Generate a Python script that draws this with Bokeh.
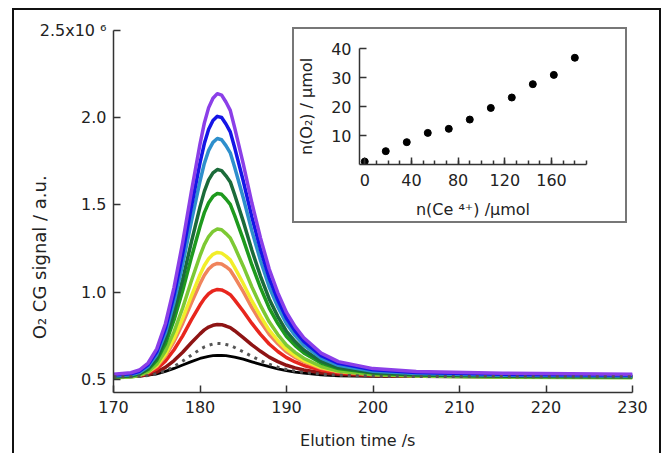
from bokeh.plotting import figure
from bokeh.models import Range1d, FixedTicker, Div
from bokeh.embed import file_html
from bokeh.resources import INLINE

FONT = "DejaVu Sans"
NB = "\u00a0"

# ---- main chart data (signal in units of 10^6 a.u.) ----
time_s = [170, 172, 173, 174, 175, 176, 177, 178, 179, 180, 180.5, 181, 181.5, 182, 182.5, 183, 183.5, 184,
          185, 186, 187, 188, 189, 190, 191, 192, 194, 196, 200, 205, 215, 230]

sig_black = [0.515, 0.516, 0.519, 0.524, 0.532, 0.546, 0.563, 0.583, 0.602, 0.620, 0.626, 0.632, 0.636, 0.638, 0.637, 0.636, 0.632, 0.628,
             0.616, 0.601, 0.586, 0.573, 0.561, 0.551, 0.542, 0.536, 0.526, 0.521, 0.517, 0.516, 0.515, 0.515]
sig_darkred = [0.515, 0.517, 0.520, 0.527, 0.542, 0.569, 0.608, 0.656, 0.710, 0.761, 0.784, 0.800, 0.810, 0.815, 0.814, 0.806, 0.797, 0.779,
               0.740, 0.698, 0.661, 0.628, 0.602, 0.581, 0.566, 0.554, 0.538, 0.529, 0.521, 0.518, 0.516, 0.515]
sig_red = [0.515, 0.518, 0.523, 0.535, 0.560, 0.605, 0.670, 0.750, 0.841, 0.926, 0.963, 0.991, 1.008, 1.016, 1.013, 1.001, 0.986, 0.956,
           0.891, 0.821, 0.758, 0.703, 0.660, 0.625, 0.600, 0.580, 0.553, 0.538, 0.525, 0.520, 0.517, 0.515]
sig_salmon = [0.515, 0.518, 0.525, 0.541, 0.574, 0.632, 0.717, 0.821, 0.938, 1.048, 1.097, 1.133, 1.155, 1.165, 1.162, 1.146, 1.126, 1.087,
              1.003, 0.912, 0.830, 0.759, 0.704, 0.658, 0.626, 0.600, 0.564, 0.544, 0.528, 0.522, 0.517, 0.515]
sig_yellow = [0.515, 0.519, 0.526, 0.544, 0.579, 0.643, 0.736, 0.850, 0.978, 1.100, 1.153, 1.192, 1.217, 1.228, 1.224, 1.207, 1.185, 1.142,
              1.050, 0.950, 0.861, 0.782, 0.722, 0.672, 0.636, 0.608, 0.568, 0.547, 0.529, 0.522, 0.517, 0.515]
sig_lightgreen = [0.510, 0.514, 0.523, 0.544, 0.587, 0.663, 0.774, 0.910, 1.064, 1.209, 1.273, 1.319, 1.348, 1.362, 1.358, 1.336, 1.311, 1.260,
                  1.149, 1.030, 0.923, 0.830, 0.757, 0.697, 0.655, 0.621, 0.574, 0.548, 0.527, 0.519, 0.513, 0.510]
sig_green = [0.515, 0.520, 0.531, 0.557, 0.610, 0.704, 0.841, 1.009, 1.198, 1.377, 1.456, 1.513, 1.549, 1.566, 1.561, 1.534, 1.503, 1.440,
             1.303, 1.156, 1.025, 0.909, 0.820, 0.746, 0.694, 0.652, 0.594, 0.562, 0.536, 0.526, 0.518, 0.515]
sig_darkgreen = [0.515, 0.521, 0.533, 0.563, 0.622, 0.729, 0.883, 1.073, 1.287, 1.489, 1.578, 1.644, 1.684, 1.703, 1.697, 1.667, 1.632, 1.560,
                 1.406, 1.240, 1.091, 0.961, 0.860, 0.776, 0.717, 0.669, 0.604, 0.568, 0.539, 0.527, 0.519, 0.515]
sig_lightblue = [0.520, 0.527, 0.540, 0.574, 0.642, 0.765, 0.942, 1.160, 1.405, 1.636, 1.738, 1.813, 1.859, 1.881, 1.874, 1.840, 1.799, 1.718,
                 1.541, 1.350, 1.180, 1.030, 0.915, 0.819, 0.751, 0.697, 0.622, 0.581, 0.547, 0.534, 0.524, 0.520]
sig_blue = [0.525, 0.532, 0.547, 0.584, 0.658, 0.792, 0.985, 1.222, 1.489, 1.741, 1.852, 1.934, 1.984, 2.008, 2.001, 1.964, 1.919, 1.830,
            1.637, 1.430, 1.244, 1.081, 0.955, 0.851, 0.777, 0.718, 0.636, 0.592, 0.555, 0.540, 0.529, 0.525]
sig_purple = [0.530, 0.538, 0.554, 0.594, 0.675, 0.819, 1.028, 1.286, 1.575, 1.849, 1.969, 2.058, 2.112, 2.138, 2.130, 2.090, 2.042, 1.945,
              1.736, 1.511, 1.310, 1.133, 0.996, 0.884, 0.803, 0.739, 0.651, 0.602, 0.562, 0.546, 0.535, 0.530]
sig_dotted = [0.515, 0.516, 0.518, 0.523, 0.532, 0.549, 0.574, 0.605, 0.639, 0.672, 0.686, 0.696, 0.703, 0.706, 0.705, 0.700, 0.695, 0.683,
              0.658, 0.632, 0.608, 0.587, 0.570, 0.557, 0.547, 0.540, 0.529, 0.524, 0.519, 0.517, 0.516, 0.515]

y_ticks = [0.5, 1.0, 1.5, 2.0, 2.5]
y_tick_labels = ["0.5", "1.0", "1.5", "2.0", "2.5x10 \u2076"]
x_ticks = [170, 180, 190, 200, 210, 220, 230]

# ---- inset data ----
ce_umol = [0, 18, 36, 54, 72, 90, 108, 126, 144, 162, 180]
o2_umol = [1.0, 4.6, 7.7, 10.9, 12.3, 15.5, 19.5, 23.1, 27.7, 30.9, 36.8]
inset_x_ticks = [0, 40, 80, 120, 160]
inset_x_minor = [0, 10, 20, 30, 40, 50, 60, 70, 80, 90, 100, 110, 120, 130, 140, 150, 160, 170, 180, 190]
inset_y_ticks = [10, 20, 30, 40]

# ---- main figure ----
p = figure(frame_width=519, frame_height=362, x_range=Range1d(170, 230), y_range=Range1d(0.425, 2.5),
           output_backend="svg", toolbar_location=None,
           min_border_left=113, min_border_right=34, min_border_top=30, min_border_bottom=65)
p.outline_line_color = None
p.grid.visible = False
p.background_fill_color = "white"
p.border_fill_color = "white"

series = [
    (sig_black, "#000000", 2.8, "solid"),
    (sig_darkred, "#8E1414", 3.5, "solid"),
    (sig_red, "#E8261E", 3.5, "solid"),
    (sig_salmon, "#F0845C", 3.5, "solid"),
    (sig_yellow, "#F2EE2A", 3.5, "solid"),
    (sig_lightgreen, "#7DC934", 3.5, "solid"),
    (sig_green, "#1E9A1E", 3.5, "solid"),
    (sig_darkgreen, "#1B6B3A", 3.5, "solid"),
    (sig_lightblue, "#2E8FCC", 3.5, "solid"),
    (sig_blue, "#1515E6", 3.5, "solid"),
    (sig_purple, "#8B3FE8", 3.5, "solid"),
    (sig_dotted, "#555555", 3.0, "3 5"),
]
for ys, col, lw, dash in series:
    p.line(time_s, ys, line_color=col, line_width=lw, line_dash=dash, line_join="round")

for ax in (p.xaxis[0], p.yaxis[0]):
    ax.axis_line_color = "#333333"
    ax.axis_line_width = 1.5
    ax.major_tick_line_color = "#333333"
    ax.major_tick_line_width = 1.5
    ax.major_tick_in = 7
    ax.major_tick_out = 0
    ax.minor_tick_line_color = None
    ax.major_label_text_font = FONT
    ax.major_label_text_font_size = "16px"
    ax.major_label_text_color = "#222222"
    ax.axis_label_text_font = FONT
    ax.axis_label_text_font_style = "normal"
    ax.axis_label_text_color = "#222222"

p.yaxis[0].ticker = FixedTicker(ticks=y_ticks)
p.yaxis[0].major_label_overrides = {t: s for t, s in zip(y_ticks, y_tick_labels)}
p.yaxis[0].major_label_standoff = 7
p.yaxis[0].axis_label = "O\u2082 CG signal / a.u." + NB * 16
p.yaxis[0].axis_label_text_font_size = "18px"
p.yaxis[0].axis_label_standoff = -13
p.xaxis[0].ticker = FixedTicker(ticks=x_ticks)
p.xaxis[0].major_label_standoff = 8
p.xaxis[0].axis_label = "Elution time /s" + NB * 6
p.xaxis[0].axis_label_text_font_size = "16px"
p.xaxis[0].axis_label_standoff = 15

# ---- inset figure ----
q = figure(frame_width=227, frame_height=116, x_range=Range1d(-4.5, 190), y_range=Range1d(0, 40),
           output_backend="svg", toolbar_location=None,
           min_border_left=64, min_border_right=39, min_border_top=19, min_border_bottom=57)
q.styles = {"position": "absolute", "left": "292px", "top": "27px", "box-sizing": "content-box",
            "border": "2px solid #777777", "background-color": "white"}
q.outline_line_color = None
q.grid.visible = False
q.scatter(ce_umol, o2_umol, size=7, color="black")

for ax in (q.xaxis[0], q.yaxis[0]):
    ax.axis_line_color = "#333333"
    ax.axis_line_width = 1.5
    ax.major_tick_line_color = "#333333"
    ax.major_tick_line_width = 1.5
    ax.major_tick_in = 7
    ax.major_tick_out = 0
    ax.minor_tick_line_color = "#333333"
    ax.minor_tick_line_width = 1.5
    ax.minor_tick_in = 4
    ax.minor_tick_out = 0
    ax.major_label_text_font = FONT
    ax.major_label_text_font_size = "16px"
    ax.major_label_text_color = "#222222"
    ax.axis_label_text_font = FONT
    ax.axis_label_text_font_size = "16px"
    ax.axis_label_text_font_style = "normal"
    ax.axis_label_text_color = "#222222"
q.xaxis[0].ticker = FixedTicker(ticks=inset_x_ticks, minor_ticks=inset_x_minor)
q.xaxis[0].major_label_standoff = 9
q.xaxis[0].axis_label = "n(Ce \u2074\u207a) /\u03bcmol"
q.xaxis[0].axis_label_standoff = 11
q.yaxis[0].ticker = FixedTicker(ticks=inset_y_ticks, minor_ticks=[])
q.yaxis[0].major_label_standoff = 8
q.yaxis[0].axis_label = "n(O\u2082) / \u03bcmol"
q.yaxis[0].axis_label_standoff = 12

frame = Div(text="", width=649, height=445, margin=0,
            styles={"position": "absolute", "left": "12px", "top": "8px", "box-sizing": "border-box",
                    "border-top": "2px solid #111111", "border-left": "2px solid #111111",
                    "border-right": "2px solid #111111", "pointer-events": "none"})

open("out.html", "w").write(file_html([p, q, frame], INLINE))
